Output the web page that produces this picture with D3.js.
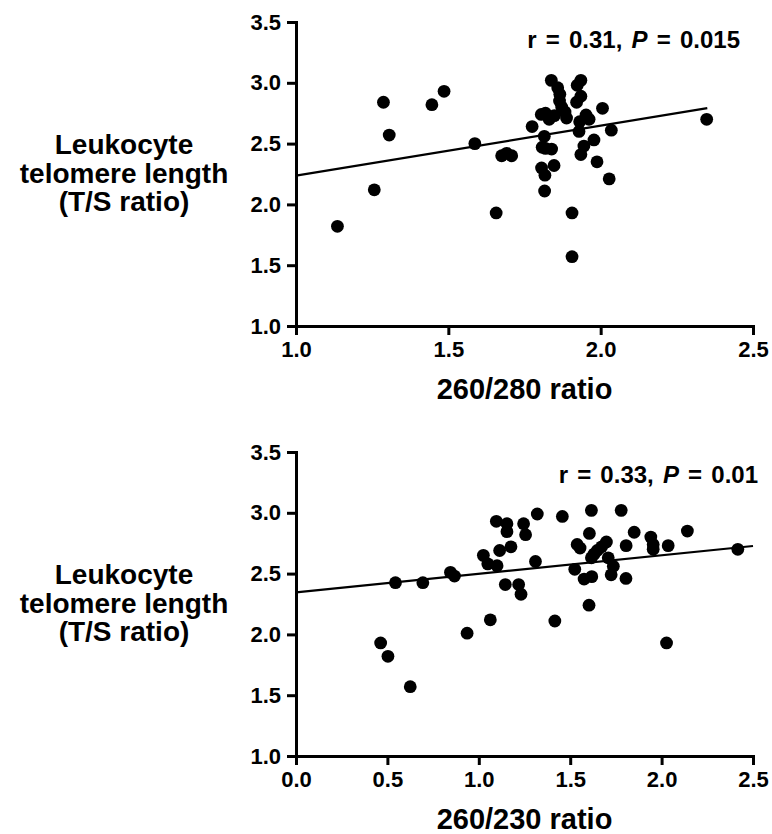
<!DOCTYPE html>
<html>
<head>
<meta charset="utf-8">
<script src="https://cdn.jsdelivr.net/npm/d3@7"></script>
<style>
  body { margin: 0; background: #fff; }
  svg text { font-family: "Liberation Sans", Arial, sans-serif; font-weight: bold; fill: #000; }
</style>
</head>
<body>
<svg id="chart" width="772" height="834"></svg>
<script>
// panel A: 260/280 ratio vs T/S ratio
let ratio280 = [1.136,1.257,1.287,1.306,1.446,1.486,1.587,1.657,1.675,1.691,1.708,1.775,1.806,1.817,1.816,1.847,1.808,1.819,1.839,1.815,1.805,1.819,1.831,1.848,1.838,1.859,1.866,1.865,1.872,1.883,1.888,1.935,1.923,1.935,1.921,1.952,1.962,1.931,1.929,2.006,2.035,2.348,1.978,1.945,1.935,1.988,2.028,1.906,1.906];
let telomereA = [1.82,2.12,2.84,2.57,2.82,2.93,2.50,1.93,2.40,2.42,2.40,2.64,2.30,2.24,2.11,2.32,2.47,2.46,2.455,2.56,2.74,2.75,2.70,2.73,3.02,2.96,2.905,2.85,2.80,2.76,2.71,3.02,2.98,2.89,2.84,2.735,2.70,2.68,2.60,2.79,2.61,2.70,2.53,2.48,2.41,2.35,2.21,1.93,1.57];
let fitA = [[1.0, 2.236], [2.35, 2.792]];

// panel B: 260/230 ratio vs T/S ratio
let ratio230 = [0.463,0.503,0.625,0.544,0.694,0.845,0.867,0.936,1.025,1.049,1.100,1.063,1.096,1.154,1.154,1.114,1.176,1.245,1.256,1.32,1.31,1.145,1.218,1.231,1.416,1.457,1.525,1.538,1.554,1.576,1.603,1.605,1.616,1.618,1.616,1.630,1.648,1.672,1.698,1.708,1.736,1.724,1.779,1.805,1.806,1.850,1.941,1.954,1.954,2.027,2.036,2.141,2.417];
let telomereB = [1.93,1.82,1.57,2.425,2.425,2.51,2.48,2.01,2.65,2.58,2.565,2.12,2.93,2.91,2.845,2.69,2.72,2.91,2.82,2.99,2.60,2.41,2.41,2.33,2.11,2.97,2.535,2.74,2.71,2.455,2.24,2.83,3.02,2.475,2.63,2.66,2.69,2.72,2.76,2.63,2.56,2.49,3.02,2.46,2.73,2.84,2.80,2.74,2.70,1.93,2.73,2.85,2.70];
let fitB = [[0.0, 2.345], [2.5, 2.727]];

let yTicks = [1.0, 1.5, 2.0, 2.5, 3.0, 3.5];
let xTicksA = [1.0, 1.5, 2.0, 2.5];
let xTicksB = [0.0, 0.5, 1.0, 1.5, 2.0, 2.5];
let yTitle = ["Leukocyte", "telomere length", "(T/S ratio)"];

let panels = [
  { xs: ratio280, ys: telomereA, fit: fitA, xDomain: [1.0, 2.5], xTicks: xTicksA,
    xTitle: "260/280 ratio", r: "0.31", p: "0.015", top: 22, noteX: 740, noteY: 48 },
  { xs: ratio230, ys: telomereB, fit: fitB, xDomain: [0.0, 2.5], xTicks: xTicksB,
    xTitle: "260/230 ratio", r: "0.33", p: "0.01", top: 452, noteX: 758, noteY: 483 }
];

let svg = d3.select("#chart");
let left = 296, right = 753, plotH = 304;

panels.forEach(function(p) {
  let g = svg.append("g");

  let x = d3.scaleLinear().domain(p.xDomain).range([left, right]);
  let y = d3.scaleLinear().domain([1.0, 3.5]).range([p.top + plotH, p.top]);

  let xAxis = g.append("g")
    .attr("transform", "translate(0," + (p.top + plotH) + ")")
    .call(d3.axisBottom(x).tickValues(p.xTicks).tickFormat(d3.format(".1f")).tickSize(9).tickSizeOuter(0).tickPadding(6));

  let yAxis = g.append("g")
    .attr("transform", "translate(" + left + ",0)")
    .call(d3.axisLeft(y).tickValues(yTicks).tickFormat(d3.format(".1f")).tickSize(9).tickSizeOuter(0).tickPadding(6));

  [xAxis, yAxis].forEach(function(a) {
    a.select(".domain").attr("stroke", "#000").attr("stroke-width", 3).attr("stroke-linecap", "square");
    a.selectAll(".tick line").attr("stroke", "#000").attr("stroke-width", 3);
    a.selectAll(".tick text").style("font-size", "22px");
  });

  // dots
  g.selectAll("circle")
    .data(p.xs.map(function(d, i) { return [d, p.ys[i]]; }))
    .enter().append("circle")
    .attr("cx", function(d) { return x(d[0]); })
    .attr("cy", function(d) { return y(d[1]); })
    .attr("r", 6.4)
    .attr("fill", "#000");

  // regression line
  g.append("path")
    .datum(p.fit)
    .attr("d", d3.line().x(function(d) { return x(d[0]); }).y(function(d) { return y(d[1]); }))
    .attr("stroke", "#000")
    .attr("stroke-width", 2.2)
    .attr("fill", "none");

  // r / P note
  let note = g.append("text")
    .attr("x", p.noteX).attr("y", p.noteY)
    .attr("text-anchor", "end")
    .style("font-size", "24px")
    .style("word-spacing", "2.5px")
    .attr("xml:space", "preserve");
  note.append("tspan").text("r = " + p.r + ", ");
  note.append("tspan").style("font-style", "italic").text("P");
  note.append("tspan").text(" = " + p.p);

  // x title
  g.append("text")
    .attr("x", (left + right) / 2)
    .attr("y", p.top + plotH + 73)
    .attr("text-anchor", "middle")
    .style("font-size", "29px")
    .text(p.xTitle);

  // y title
  let mid = p.top + plotH / 2;
  g.append("text")
    .attr("text-anchor", "middle")
    .style("font-size", "28px")
    .selectAll("tspan")
    .data(yTitle).enter().append("tspan")
    .attr("x", 124)
    .attr("y", function(d, i) { return mid - 20 + (i) * 28.5; })
    .text(function(d) { return d; });
});
</script>
</body>
</html>
